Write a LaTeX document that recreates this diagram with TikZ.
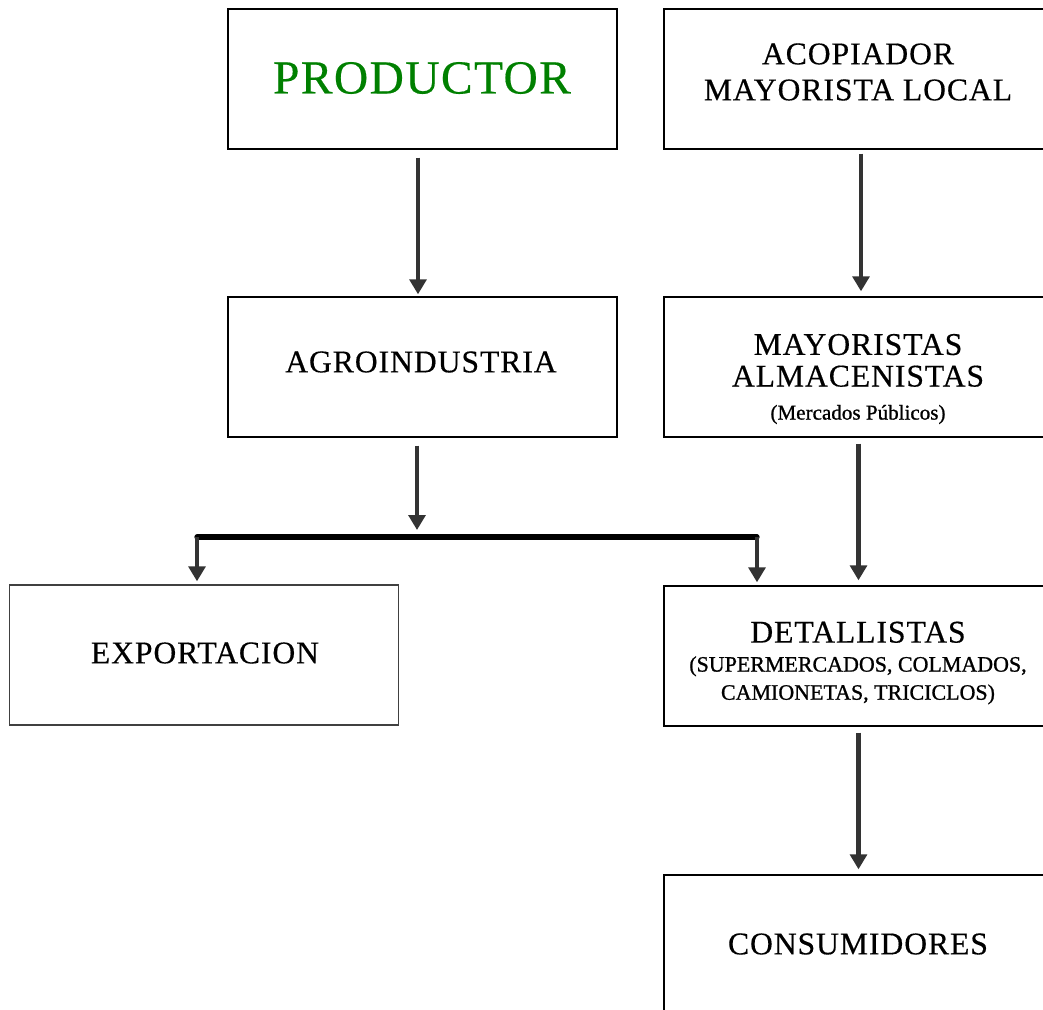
\documentclass[tikz,border=0pt]{standalone}
\usepackage{fontspec}
\setmainfont[LetterSpace=3, FakeBold=0.4]{Liberation Serif}
\usetikzlibrary{arrows.meta}

\definecolor{verdeprod}{RGB}{0,128,0}
\definecolor{grisflecha}{RGB}{51,51,51}

\tikzset{
  caja/.style={draw=black, line width=0.8pt, rectangle, inner sep=0pt,
    minimum width=7.78cm, minimum height=2.8cm},
  rotulo/.style={inner sep=0pt, align=center,
    font=\fontsize{18}{21}\selectfont},
  flecha/.style={draw=grisflecha, line width=2.8pt,
    -{Triangle[width=9.5pt,length=8.5pt]}},
  barra/.style={draw=black, line width=3pt, line cap=round}
}

\newcommand{\subtexto}[2]{{\fontsize{#1}{#1}\selectfont\addfontfeatures{LetterSpace=0, FakeBold=1}#2}}

\begin{document}
\begin{tikzpicture}[x=0.02cm, y=-0.02cm]
  \clip (0,0) rectangle (1043,1009);

  % cajas
  \node[caja] (prod) at (422.5,79) {};
  \node[caja] (agro) at (422.5,367) {};
  \node[caja, draw=black!75] (expo) at (204,655) {};
  \node[caja] (acop) at (858.5,79) {};
  \node[caja] (mayo) at (858.5,367) {};
  \node[caja] (deta) at (858.5,656) {};
  \node[caja] (cons) at (858.5,945) {};

  % textos
  \node[rotulo, font=\fontsize{27}{30}\selectfont, text=verdeprod] (prod-t) at (422,78) {PRODUCTOR};
  \node[rotulo] (agro-t) at (421,362) {AGROINDUSTRIA};
  \node[rotulo] (expo-t) at (205,653) {EXPORTACION};
  \node[rotulo] (acop-t) at (858,72) {ACOPIADOR\\[-0.5pt]MAYORISTA LOCAL};
  \node[rotulo, font=\fontsize{18}{18}\selectfont] (mayo-t) at (858,379) {MAYORISTAS\\ALMACENISTAS\\[0.8pt]\subtexto{12}{(Mercados Públicos)}};
  \node[rotulo, font=\fontsize{18}{16}\selectfont] (deta-t) at (858,663) {DETALLISTAS\\[0.5pt]\subtexto{12.5}{(SUPERMERCADOS, COLMADOS,}\\[0pt]\subtexto{12.5}{CAMIONETAS, TRICICLOS)}};
  \node[rotulo] (cons-t) at (858,944) {CONSUMIDORES};

  % reparto
  \coordinate (nodo) at (417,537);
  \coordinate (izq) at (197,537);
  \coordinate (der) at (757,537);

  \draw[flecha] ([xshift=-0.09cm, yshift=-0.16cm]prod.south) -- ([xshift=-0.09cm, yshift=0.04cm]agro.north);
  \draw[flecha] ([yshift=-0.16cm]agro.south -| nodo) -- ([yshift=0.14cm]nodo);
  \draw[barra] (izq) -- (der);
  \draw[flecha] (izq) -- ([yshift=0.06cm]izq |- expo.north);
  \draw[flecha] (der) -- ([yshift=0.06cm]der |- deta.north);

  \draw[flecha] ([xshift=0.05cm, yshift=-0.08cm]acop.south) -- ([xshift=0.05cm, yshift=0.1cm]mayo.north);
  \draw[flecha] ([yshift=-0.12cm]mayo.south) -- ([yshift=0.1cm]deta.north);
  \draw[flecha] ([yshift=-0.12cm]deta.south) -- ([yshift=0.1cm]cons.north);
\end{tikzpicture}
\end{document}
